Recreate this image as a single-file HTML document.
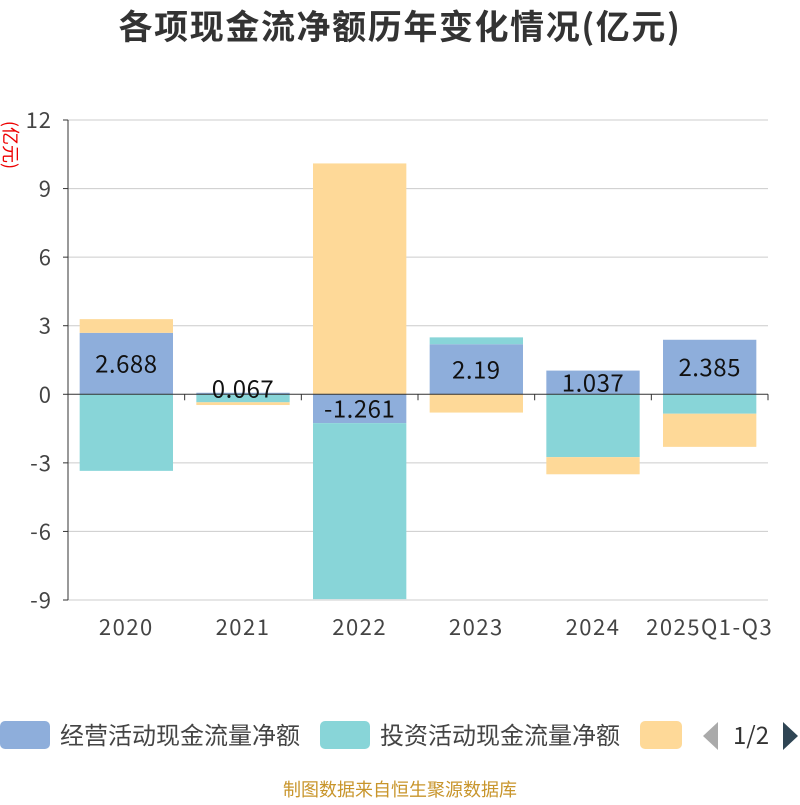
<!DOCTYPE html>
<html><head><meta charset="utf-8"><style>
body{margin:0;background:#fff;font-family:"Noto Sans CJK SC","Liberation Sans",sans-serif}
svg text{font-family:"Noto Sans CJK SC","Liberation Sans",sans-serif}
</style></head><body>
<svg id="c" width="800" height="800" xmlns="http://www.w3.org/2000/svg">
<text x="400" y="39" text-anchor="middle" font-size="34" letter-spacing="1.6" font-weight="bold" fill="#333">各项现金流净额历年变化情况(亿元)</text>
<text transform="translate(4,145) rotate(90)" text-anchor="middle" font-size="18" fill="#e00">(亿元)</text>
<g id="grid"></g><g id="bars"></g><g id="axes"></g><g id="labels"></g>
<g>
<g><rect x="0" y="721" width="50" height="28" rx="5" fill="#8eaedb"/><text x="60" y="744" font-size="24" fill="#444">经营活动现金流量净额</text></g>
<g><rect x="320" y="721" width="50" height="28" rx="5" fill="#88d5d8"/><text x="380" y="744" font-size="24" fill="#444">投资活动现金流量净额</text></g>
<g><rect x="640" y="721" width="42" height="28" rx="5" fill="#fed998"/></g>
<polygon points="718,722 718,750 703,736" fill="#aaa"/>
<text x="751" y="744" text-anchor="middle" font-size="24" fill="#333">1/2</text>
<polygon points="783,722 783,750 798,736" fill="#2f4554"/>
</g>
<text x="400" y="796" text-anchor="middle" font-size="18" fill="#c8952b">制图数据来自恒生聚源数据库</text>
</svg>
<script>
const categories=["2020","2021","2022","2023","2024","2025Q1-Q3"];
const operating=[2.688,0.067,-1.261,2.19,1.037,2.385];
const investing=[-3.35,-0.35,-7.7,0.3,-2.75,-0.85];
const financing=[0.6,-0.12,10.1,-0.8,-0.75,-1.45];
const yTicks=[-9,-6,-3,0,3,6,9,12];
const ns="http://www.w3.org/2000/svg";
const x0=68,x1=768,yTop=120,yBot=600,yMin=-9,yMax=12;
const y=v=>yTop+(yMax-v)/(yMax-yMin)*(yBot-yTop);
const bw=(x1-x0)/categories.length;
const xc=i=>x0+bw*(i+0.5);
function mk(t,a,p){const e=document.createElementNS(ns,t);for(const k in a)e.setAttribute(k,a[k]);p.appendChild(e);return e;}
const G=document.getElementById('grid'),B=document.getElementById('bars'),A=document.getElementById('axes'),L=document.getElementById('labels');
yTicks.forEach(t=>{
 if(t!==0){const l=mk('line',{x1:x0,x2:x1,y1:y(t),y2:y(t),stroke:'#ccc','stroke-width':1},G);
 
 }
 const tx=mk('text',{x:52,y:y(t)+8,'text-anchor':'end','font-size':22,'letter-spacing':1,fill:'#444'},A);tx.textContent=t;
 
 
 mk('line',{x1:x0-5,x2:x0,y1:y(t),y2:y(t),stroke:'#333'},A);
});
mk('line',{x1:x0,x2:x0,y1:yTop,y2:yBot,stroke:'#333'},A);
const za=mk('line',{x1:x0,x2:x1,y1:y(0),y2:y(0),stroke:'#333'},A);


for(let i=0;i<=categories.length;i++)mk('line',{x1:x0+bw*i,x2:x0+bw*i,y1:y(0),y2:y(0)+6,stroke:'#333'},A);
const series=[[operating,'#8eaedb','operating'],[investing,'#88d5d8','investing'],[financing,'#fed998','financing']];
categories.forEach((c,i)=>{
 let pos=0,neg=0;
 series.forEach(([arr,col,nm])=>{
  const v=arr[i];let a,b;
  if(v>=0){a=pos;b=pos+v;pos=b;}else{a=neg;b=neg+v;neg=b;}
  const r=mk('rect',{x:xc(i)-bw*0.4,width:bw*0.8,y:Math.min(y(a),y(b)),height:Math.abs(y(a)-y(b)),fill:col},B);
  
  
 });
 const v=operating[i];
 const lt=mk('text',{x:xc(i),y:y(v/2)+9,'text-anchor':'middle','font-size':24,'letter-spacing':0.5,fill:'#111'},L);
 if(Math.abs(y(v)-y(0))<20)lt.setAttribute('y',y(0)+3);
 lt.textContent=v;
 
 
 const xt=mk('text',{x:xc(i),y:635,'text-anchor':'middle','font-size':22,'letter-spacing':1.5,fill:'#444'},A);xt.textContent=c;
 
 
});
</script>
</body></html>
